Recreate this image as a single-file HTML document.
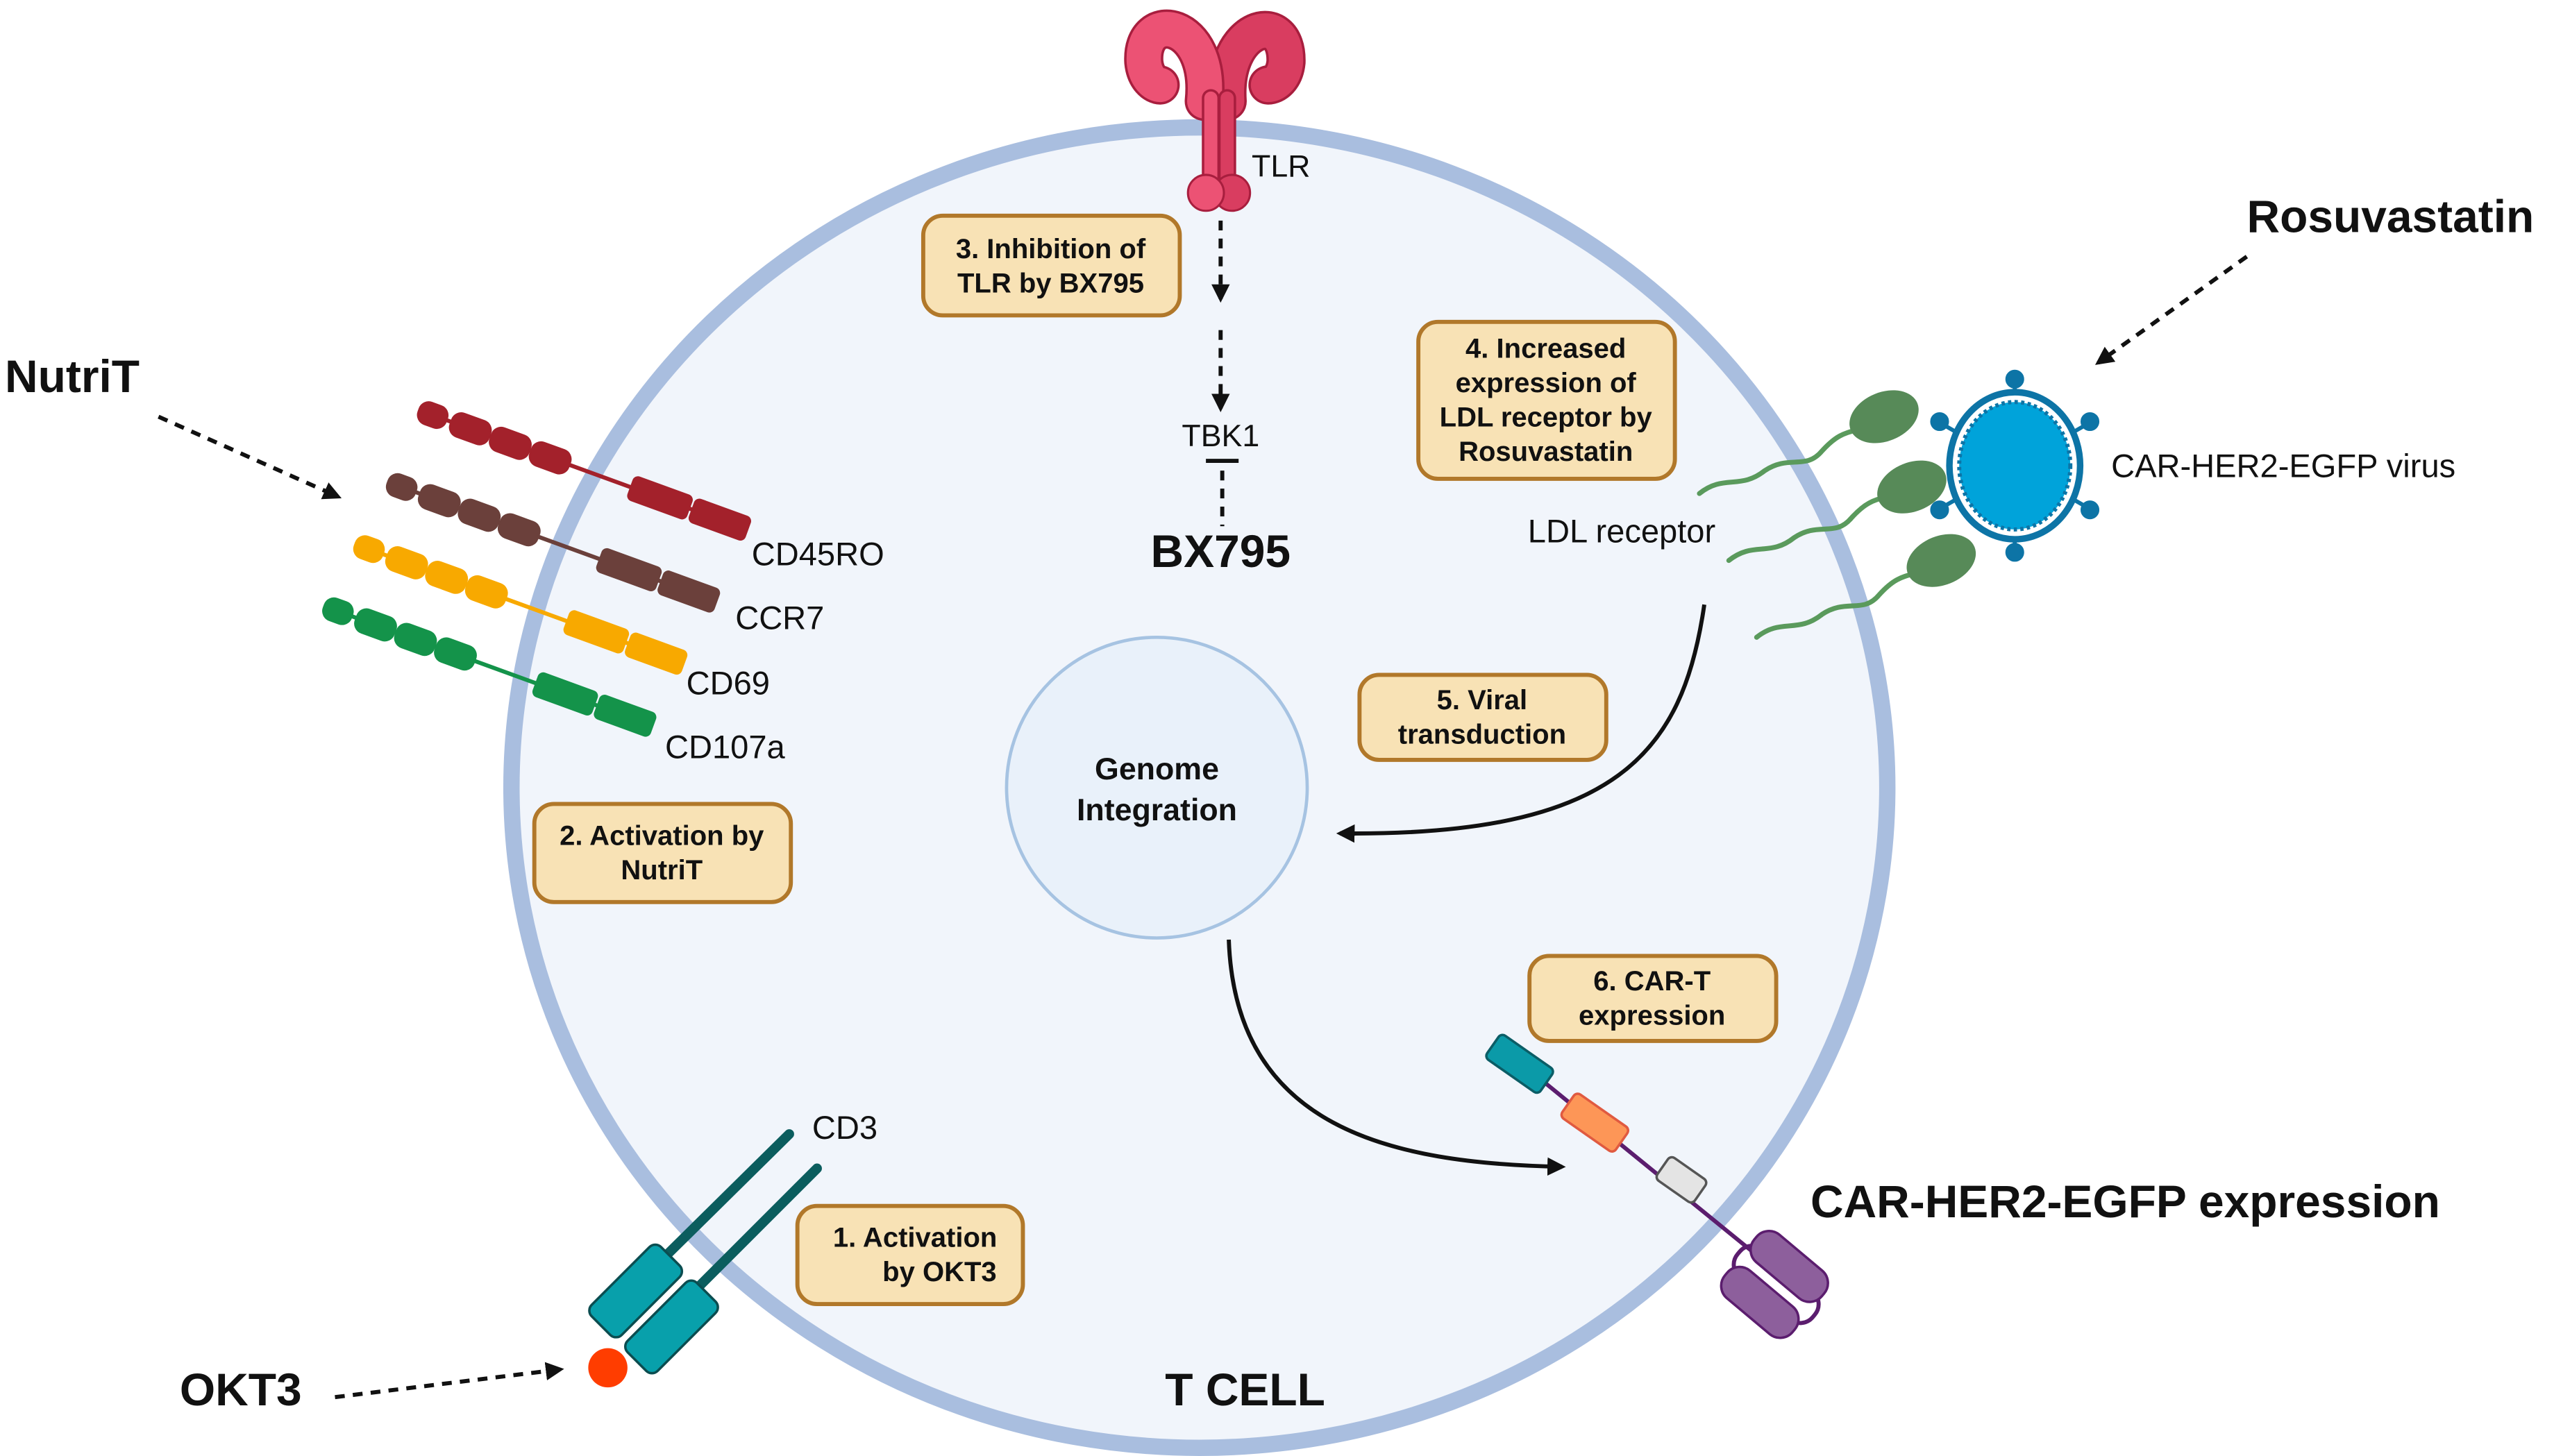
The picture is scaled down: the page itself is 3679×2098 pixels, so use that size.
<!DOCTYPE html>
<html><head><meta charset="utf-8"><style>
html,body{margin:0;padding:0;background:#fff;}
svg{display:block;}
text{font-family:"Liberation Sans",Arial,sans-serif;fill:#111;}
.b{font-weight:bold;}
.bx text{font-weight:bold;font-size:17px;text-anchor:middle;}
</style></head><body>
<svg width="3679" height="2098" viewBox="0 0 1563 891" preserveAspectRatio="none" xmlns="http://www.w3.org/2000/svg">
<defs>
<marker id="ah" viewBox="0 0 10 10" refX="8" refY="5" markerWidth="4.5" markerHeight="4.5" orient="auto"><path d="M0,0 L10,5 L0,10 z" fill="#111"/></marker>
<g id="rec">
<line x1="0" y1="0" x2="200" y2="0" stroke-width="2.5" stroke="inherit"/>
<rect x="-6" y="-7" width="18" height="14" rx="6"/>
<rect x="15" y="-7.5" width="25" height="15" rx="6"/>
<rect x="41" y="-7.5" width="25" height="15" rx="6"/>
<rect x="67" y="-7.5" width="25" height="15" rx="6"/>
<rect x="132" y="-7.5" width="38" height="15" rx="3"/>
<rect x="172" y="-7.5" width="36" height="15" rx="3"/>
</g>
</defs>
<rect width="1563" height="891" fill="#fff"/>
<!-- cell -->
<ellipse cx="734" cy="482" rx="421" ry="404" fill="#f1f5fb" stroke="#a9bedf" stroke-width="10"/>
<!-- genome -->
<circle cx="708" cy="482" r="92" fill="#e9f1fa" stroke="#a6c3e2" stroke-width="2"/>
<text x="708" y="477" class="b" font-size="19" text-anchor="middle">Genome</text>
<text x="708" y="502" class="b" font-size="19" text-anchor="middle">Integration</text>

<!-- receptors left -->
<g transform="translate(262,253) rotate(20)" fill="#a3212b" stroke="#a3212b"><use href="#rec"/></g>
<g transform="translate(243,297) rotate(20)" fill="#6b403b" stroke="#6b403b"><use href="#rec"/></g>
<g transform="translate(223,335) rotate(20)" fill="#f8a900" stroke="#f8a900"><use href="#rec"/></g>
<g transform="translate(204,373) rotate(20)" fill="#14934a" stroke="#14934a"><use href="#rec"/></g>
<text x="460" y="346" font-size="20">CD45RO</text>
<text x="450" y="385" font-size="20">CCR7</text>
<text x="420" y="425" font-size="20">CD69</text>
<text x="407" y="464" font-size="20">CD107a</text>

<!-- TLR -->
<g fill="none" stroke-linecap="round">
<path d="M751,62 C748,15 788,5 787,38 C786,48 780,52 776,52" stroke="#a81e3e" stroke-width="24"/>
<path d="M751,62 C748,15 788,5 787,38 C786,48 780,52 776,52" stroke="#d93d60" stroke-width="21"/>
<path d="M737,62 C742,12 698,5 700,38 C701,48 707,52 710,52" stroke="#a81e3e" stroke-width="24"/>
<path d="M737,62 C742,12 698,5 700,38 C701,48 707,52 710,52" stroke="#ec5274" stroke-width="21"/>
<line x1="741" y1="60" x2="741" y2="112" stroke="#a81e3e" stroke-width="11"/>
<line x1="751" y1="60" x2="751" y2="112" stroke="#a81e3e" stroke-width="11"/>
<line x1="741" y1="60" x2="741" y2="112" stroke="#ec5274" stroke-width="8"/>
<line x1="751" y1="60" x2="751" y2="112" stroke="#d93d60" stroke-width="8"/>
</g>
<circle cx="754" cy="118" r="11" fill="#d93d60" stroke="#a81e3e" stroke-width="1.3"/>
<circle cx="738" cy="118" r="11" fill="#ec5274" stroke="#a81e3e" stroke-width="1.3"/>
<text x="766" y="108" font-size="19">TLR</text>
<line x1="747" y1="135" x2="747" y2="183" stroke="#111" stroke-width="2.5" stroke-dasharray="6,5" marker-end="url(#ah)"/>
<line x1="747" y1="202" x2="747" y2="250" stroke="#111" stroke-width="2.5" stroke-dasharray="6,5" marker-end="url(#ah)"/>
<text x="747" y="273" font-size="19" text-anchor="middle">TBK1</text>
<line x1="738" y1="282" x2="758" y2="282" stroke="#111" stroke-width="2.5"/>
<line x1="748" y1="288" x2="748" y2="322" stroke="#111" stroke-width="2.5" stroke-dasharray="6,5"/>
<text x="747" y="347" class="b" font-size="28" text-anchor="middle">BX795</text>

<!-- boxes -->
<g class="bx" fill="#f8e2b5" stroke="#b1782a" stroke-width="2.5">
<rect x="565" y="132" width="157" height="61" rx="12"/>
<rect x="868" y="197" width="157" height="96" rx="12"/>
<rect x="832" y="413" width="151" height="52" rx="12"/>
<rect x="327" y="492" width="157" height="60" rx="12"/>
<rect x="936" y="585" width="151" height="52" rx="12"/>
<rect x="488" y="738" width="138" height="60" rx="12"/>
</g>
<g class="bx">
<text x="643" y="158">3. Inhibition of</text><text x="643" y="179">TLR by BX795</text>
<text x="946" y="219">4. Increased</text><text x="946" y="240">expression of</text><text x="946" y="261">LDL receptor by</text><text x="946" y="282">Rosuvastatin</text>
<text x="907" y="434">5. Viral</text><text x="907" y="455">transduction</text>
<text x="405" y="517">2. Activation by</text><text x="405" y="538">NutriT</text>
<text x="1011" y="606">6. CAR-T</text><text x="1011" y="627">expression</text>
<text x="560" y="763">1.  Activation</text><text x="575" y="784">by OKT3</text>
</g>

<!-- virus & LDL -->
<g fill="none" stroke="#5a9a5c" stroke-width="3" stroke-linecap="round">
<path d="M1040,302 C1055,290 1065,300 1080,288 C1095,278 1105,288 1115,276 C1125,265 1130,265 1140,262"/>
<path d="M1058,343 C1073,331 1083,341 1098,329 C1113,319 1123,329 1133,317 C1143,306 1148,306 1158,303"/>
<path d="M1075,390 C1090,378 1100,388 1115,376 C1130,366 1140,376 1150,364 C1160,353 1165,353 1175,350"/>
</g>
<g fill="#578a58">
<ellipse cx="1153" cy="255" rx="22" ry="15" transform="rotate(-22 1153 255)"/>
<ellipse cx="1170" cy="298" rx="22" ry="15" transform="rotate(-22 1170 298)"/>
<ellipse cx="1188" cy="343" rx="22" ry="15" transform="rotate(-22 1188 343)"/>
</g>
<g stroke="#0d74a6" stroke-width="2.5" fill="#0d74a6">
<line x1="1233" y1="230" x2="1233" y2="340"/>
<line x1="1186" y1="258" x2="1280" y2="312"/>
<line x1="1280" y1="258" x2="1186" y2="312"/>
<circle cx="1233" cy="232" r="4.5"/><circle cx="1233" cy="338" r="4.5"/>
<circle cx="1187" cy="258" r="4.5"/><circle cx="1279" cy="258" r="4.5"/>
<circle cx="1187" cy="312" r="4.5"/><circle cx="1279" cy="312" r="4.5"/>
<ellipse cx="1233" cy="285" rx="40" ry="45" fill="#fff" stroke-width="4"/>
<ellipse cx="1233" cy="285" rx="34" ry="39" fill="#00a3da" stroke="#0d74a6" stroke-width="2.5" stroke-dasharray="2,2"/>
</g>
<text x="1292" y="292" font-size="20">CAR-HER2-EGFP virus</text>
<text x="935" y="332" font-size="20">LDL receptor</text>

<!-- curves -->
<path d="M1043,370 C1030,460 990,512 820,510" fill="none" stroke="#111" stroke-width="2.5" marker-end="url(#ah)"/>
<path d="M752,575 C756,690 850,712 956,714" fill="none" stroke="#111" stroke-width="2.5" marker-end="url(#ah)"/>

<!-- CAR -->
<line x1="930" y1="650" x2="1075" y2="768" stroke="#5b1d6e" stroke-width="2.5"/>
<g stroke-width="1.5">
<rect x="-20" y="-9" width="40" height="18" rx="3" fill="#0b9aa8" stroke="#0b5d66" transform="translate(930,651) rotate(35)"/>
<rect x="-20" y="-9" width="40" height="18" rx="3" fill="#fd9657" stroke="#e05a40" transform="translate(976,687) rotate(35)"/>
<rect x="-14" y="-8.5" width="28" height="17" rx="3" fill="#e4e4e4" stroke="#555" transform="translate(1029,722) rotate(35)"/>
<rect x="-30" y="-11" width="60" height="22" rx="10" fill="none" stroke="#5b1d6e" stroke-width="2.5" transform="translate(1087,786) rotate(40)"/>
<rect x="-27" y="-11" width="54" height="22" rx="10" fill="#8d5f9c" stroke="#5b1d6e" transform="translate(1095,775) rotate(40)"/>
<rect x="-27" y="-11" width="54" height="22" rx="10" fill="#8d5f9c" stroke="#5b1d6e" transform="translate(1077,797) rotate(40)"/>
</g>
<text x="1108" y="745" class="b" font-size="28">CAR-HER2-EGFP expression</text>

<!-- CD3 -->
<g stroke="#0b5d5e" stroke-width="6" stroke-linecap="round">
<line x1="483" y1="694" x2="408" y2="768"/>
<line x1="500" y1="715" x2="428" y2="787"/>
</g>
<g fill="#08a0ab" stroke="#0b4d50" stroke-width="1.5">
<rect x="-13" y="-30" width="26" height="60" rx="5" transform="translate(389,790) rotate(45)"/>
<rect x="-13" y="-30" width="26" height="60" rx="5" transform="translate(411,812) rotate(45)"/>
</g>
<circle cx="372" cy="837" r="12" fill="#ff3d00"/>
<text x="497" y="697" font-size="20">CD3</text>

<!-- external dashed arrows -->
<g stroke="#111" stroke-width="2.5" stroke-dasharray="6,5" fill="none">
<line x1="97" y1="255" x2="207" y2="304" marker-end="url(#ah)"/>
<line x1="1375" y1="157" x2="1284" y2="222" marker-end="url(#ah)"/>
<line x1="205" y1="855" x2="343" y2="838" marker-end="url(#ah)"/>
</g>
<text x="3" y="240" class="b" font-size="28">NutriT</text>
<text x="1375" y="142" class="b" font-size="28">Rosuvastatin</text>
<text x="110" y="860" class="b" font-size="28">OKT3</text>
<text x="762" y="860" class="b" font-size="28" text-anchor="middle">T CELL</text>
</svg>
</body></html>
